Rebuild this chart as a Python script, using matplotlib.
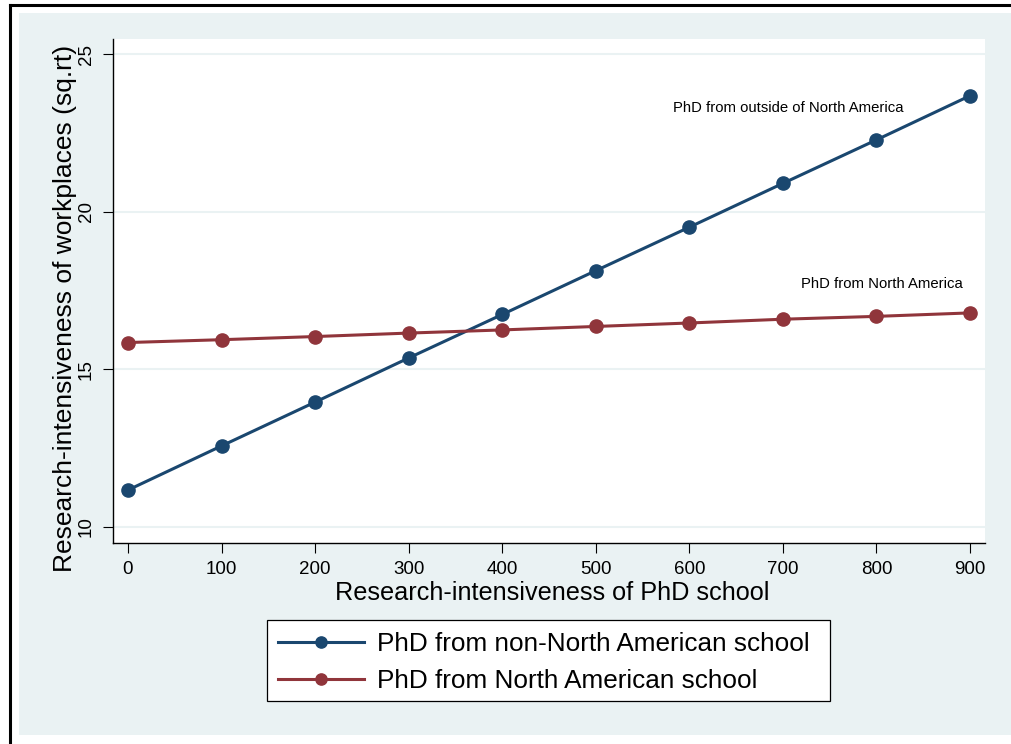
import matplotlib
matplotlib.use("Agg")
import matplotlib.pyplot as plt
from matplotlib.patches import Rectangle
from matplotlib.lines import Line2D

plt.rcParams['font.family'] = ['Liberation Sans', 'DejaVu Sans']

x_vals = [0, 100, 200, 300, 400, 500, 600, 700, 800, 900]
non_na = [11.17, 12.57, 13.96, 15.36, 16.74, 18.13, 19.51, 20.90, 22.28, 23.68]
na = [15.85, 15.94, 16.04, 16.15, 16.25, 16.36, 16.47, 16.59, 16.68, 16.79]
x_ticks = [0, 100, 200, 300, 400, 500, 600, 700, 800, 900]
y_ticks = [10, 15, 20, 25]
series_labels = ["PhD from non-North American school", "PhD from North American school"]
annot_texts = ["PhD from outside of North America", "PhD from North America"]

W, H = 1011, 744
fig = plt.figure(figsize=(W / 100, H / 100), dpi=100)
fig.patch.set_facecolor('white')

def fx(px):
    return px / W

def fy(py):
    return 1 - py / H

bg = '#eaf2f3'
fig.add_artist(Rectangle((fx(19), fy(735)), fx(1011) - fx(19), fy(13) - fy(735),
                         transform=fig.transFigure, facecolor=bg, edgecolor='none', zorder=0))
fig.add_artist(Line2D([fx(10), fx(10)], [fy(744), fy(5)], transform=fig.transFigure,
                      color='black', lw=2.2, zorder=1))
fig.add_artist(Line2D([fx(10), fx(1011)], [fy(5), fy(5)], transform=fig.transFigure,
                      color='black', lw=2.2, zorder=1))

# legend frame
fig.add_artist(Rectangle((fx(267), fy(701)), fx(830) - fx(267), fy(620) - fy(701),
                         transform=fig.transFigure, facecolor='white', edgecolor='black',
                         lw=0.9, zorder=1))

ax = fig.add_axes([fx(113), fy(543), fx(985) - fx(113), fy(39) - fy(543)])
ax.set_facecolor('white')
ax.set_xlim(-16, 916)
ax.set_ylim(9.49, 25.48)

blue = '#1a476f'
red = '#90353b'

for yt in y_ticks:
    ax.axhline(yt, color=bg, lw=1.5, zorder=1)

l1, = ax.plot(x_vals, non_na, color=blue, lw=2.2, marker='o', markersize=9.5, zorder=3,
              label=series_labels[0])
l2, = ax.plot(x_vals, na, color=red, lw=2.2, marker='o', markersize=9.5, zorder=3,
              label=series_labels[1])

ax.text(582, 23.29, annot_texts[0], fontsize=10.7, ha='left', va='center', color='black')
ax.text(719, 17.71, annot_texts[1], fontsize=10.7, ha='left', va='center', color='black')

for s in ['top', 'right']:
    ax.spines[s].set_visible(False)
for s in ['left', 'bottom']:
    ax.spines[s].set_color('black')
    ax.spines[s].set_linewidth(1.0)

ax.set_xticks(x_ticks)
ax.set_yticks(y_ticks)
ax.tick_params(axis='both', direction='out', length=7, width=0.8, labelsize=13.5, pad=6)
for lab in ax.get_yticklabels():
    lab.set_rotation(90)
    lab.set_va('center')

ax.set_xlabel("Research-intensiveness of PhD school", fontsize=18.2, labelpad=2)
ax.xaxis.set_label_coords(0.504, -0.075)
ax.set_ylabel("Research-intensiveness of workplaces (sq.rt)", fontsize=19, labelpad=0.5)
ax.yaxis.label.set_y(0.466)

leg = fig.legend(handles=[l1, l2], labels=series_labels, loc='upper left',
                 bbox_to_anchor=(fx(278), fy(632)), bbox_transform=fig.transFigure,
                 fontsize=18.8, frameon=False, handlelength=3.3, handletextpad=0.5,
                 labelspacing=0.5, borderpad=0, borderaxespad=0, markerscale=0.85)
leg.set_zorder(2)

fig.savefig('out.png', dpi=100, facecolor='white')
